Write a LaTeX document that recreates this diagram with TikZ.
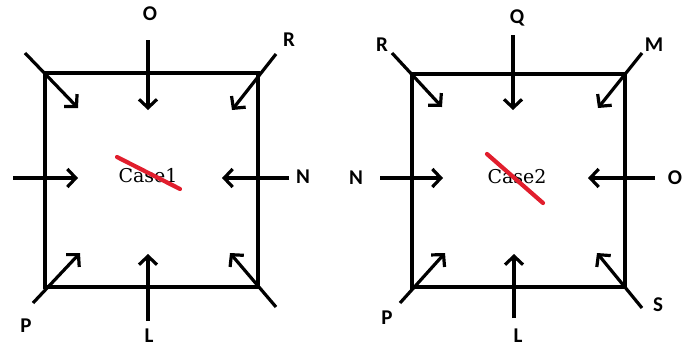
\documentclass[tikz,border=0pt]{standalone}
\usepackage{fontspec}
\setmainfont{Carlito}
\newfontfamily\casefont{DejaVu Serif}
\usetikzlibrary{arrows.meta}
\tikzset{
  boxline/.style={line width=3.2pt},
  inarrow/.style={line width=3.2pt,-{Straight Barb[length=8.5pt,width=18pt,line width=3.2pt]}},
  lbl/.style={font=\fontsize{21}{23}\selectfont\bfseries,inner sep=0pt},
  casetxt/.style={font=\casefont\fontsize{19}{21}\selectfont,inner sep=0pt},
  strike/.style={line width=4.2pt,draw={rgb,255:red,225;green,30;blue,45},line cap=round}
}
\begin{document}
\begin{tikzpicture}[x=1pt,y=-1pt]
\useasboundingbox (0,0) rectangle (687,349);
% ---------- Case 1 ----------
\coordinate (a1) at (45,73);
\coordinate (c1) at (258,287);
\draw[boxline] (a1) rectangle (c1);
\node[casetxt] (case1) at (148,176) {Case1};
\coordinate (s1a) at (117,157);
\coordinate (s1b) at (180,189);
\draw[strike] (s1a) -- (s1b);
\node[lbl] (O1) at (150,14) {O};
\node[lbl] (R1) at (289,40) {R};
\node[lbl] (N1) at (303,177) {N};
\node[lbl] (P1) at (26,326) {P};
\node[lbl] (L1) at (149,336) {L};
\coordinate (tl1s) at (25,53);  \coordinate (tl1e) at (78,108);
\coordinate (O1s) at (148,40);  \coordinate (O1e) at (148,110);
\coordinate (R1s) at (276,54);  \coordinate (R1e) at (232,110);
\coordinate (W1s) at (13,178);  \coordinate (W1e) at (78,178);
\coordinate (N1s) at (289,178); \coordinate (N1e) at (222,178);
\coordinate (P1s) at (33,303);  \coordinate (P1e) at (80,253);
\coordinate (L1s) at (148,321); \coordinate (L1e) at (148,254);
\coordinate (br1s) at (276,307); \coordinate (br1e) at (230,253);
\draw[inarrow] (tl1s) -- (tl1e);
\draw[inarrow] (O1s) -- (O1e);
\draw[inarrow] (R1s) -- (R1e);
\draw[inarrow] (W1s) -- (W1e);
\draw[inarrow] (N1s) -- (N1e);
\draw[inarrow] (P1s) -- (P1e);
\draw[inarrow] (L1s) -- (L1e);
\draw[inarrow] (br1s) -- (br1e);
% ---------- Case 2 ----------
\coordinate (a2) at (412,74);
\coordinate (c2) at (625,287);
\draw[boxline] (a2) rectangle (c2);
\node[casetxt] (case2) at (517,177) {Case2};
\coordinate (s2a) at (487,154);
\coordinate (s2b) at (543,203);
\draw[strike] (s2a) -- (s2b);
\node[lbl] (R2) at (382,45) {R};
\node[lbl] (Q2) at (517,18) {Q};
\node[lbl] (M2) at (654,45) {M};
\node[lbl] (N2) at (356,178) {N};
\node[lbl] (O2) at (675,178) {O};
\node[lbl] (P2) at (387,318) {P};
\node[lbl] (L2) at (518,336) {L};
\node[lbl] (S2) at (658,305) {S};
\coordinate (R2s) at (392,53);  \coordinate (R2e) at (442,107);
\coordinate (Q2s) at (513,35);  \coordinate (Q2e) at (513,110);
\coordinate (M2s) at (642,53);  \coordinate (M2e) at (598,108);
\coordinate (N2s) at (380,178); \coordinate (N2e) at (443,178);
\coordinate (O2s) at (655,178); \coordinate (O2e) at (588,178);
\coordinate (P2s) at (400,303); \coordinate (P2e) at (445,253);
\coordinate (L2s) at (514,318); \coordinate (L2e) at (514,254);
\coordinate (S2s) at (642,308); \coordinate (S2e) at (597,253);
\draw[inarrow] (R2s) -- (R2e);
\draw[inarrow] (Q2s) -- (Q2e);
\draw[inarrow] (M2s) -- (M2e);
\draw[inarrow] (N2s) -- (N2e);
\draw[inarrow] (O2s) -- (O2e);
\draw[inarrow] (P2s) -- (P2e);
\draw[inarrow] (L2s) -- (L2e);
\draw[inarrow] (S2s) -- (S2e);
\end{tikzpicture}
\end{document}
